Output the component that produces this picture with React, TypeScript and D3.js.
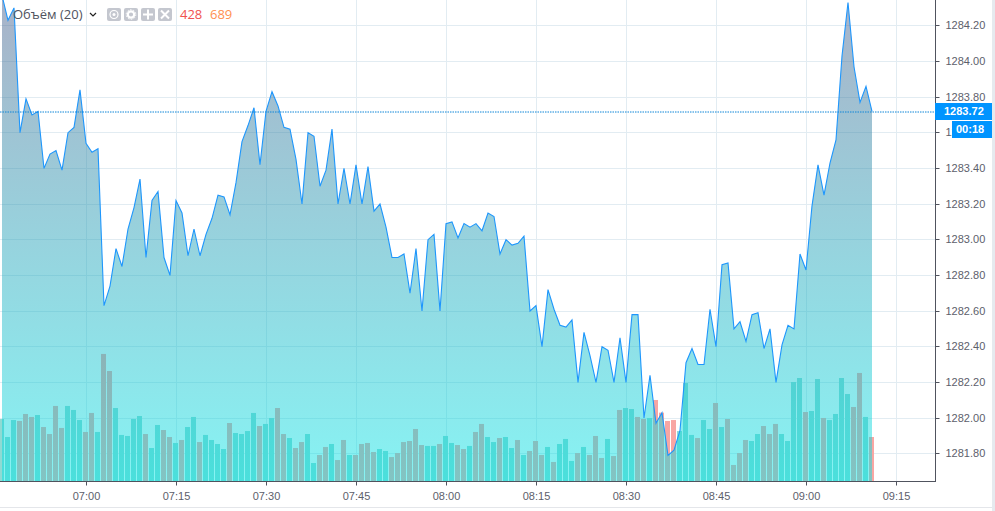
import { useEffect, useRef } from "react";
import * as d3 from "d3";

const WIDTH = 995;
const HEIGHT = 511;

// One point per minute, first one is 06:46
const startTime = Date.UTC(2018, 0, 1, 6, 46);

const prices = [
  1284.37, 1284.23, 1284.3, 1283.6, 1283.79, 1283.7, 1283.72, 1283.4, 1283.48, 1283.5, 1283.39, 1283.6, 1283.63, 1283.84,
  1283.54, 1283.49, 1283.51, 1282.63, 1282.74, 1282.95, 1282.85, 1283.06, 1283.18, 1283.34, 1282.9, 1283.22, 1283.27, 1282.9,
  1282.8, 1283.22, 1283.15, 1282.91, 1283.06, 1282.91, 1283.03, 1283.12, 1283.25, 1283.24, 1283.14, 1283.32, 1283.55, 1283.64,
  1283.74, 1283.42, 1283.72, 1283.83, 1283.75, 1283.63, 1283.62, 1283.45, 1283.2, 1283.6, 1283.58, 1283.3, 1283.39, 1283.62,
  1283.2, 1283.4, 1283.2, 1283.42, 1283.2, 1283.41, 1283.16, 1283.2, 1283.07, 1282.9, 1282.9, 1282.92, 1282.7, 1282.95,
  1282.6, 1283.0, 1283.03, 1282.6, 1283.09, 1283.1, 1283.01, 1283.09, 1283.07, 1283.09, 1283.05, 1283.15, 1283.13, 1282.92,
  1283.0, 1282.97, 1282.98, 1283.02, 1282.6, 1282.63, 1282.4, 1282.72, 1282.61, 1282.52, 1282.51, 1282.55, 1282.2, 1282.48,
  1282.35, 1282.2, 1282.4, 1282.38, 1282.2, 1282.45, 1282.2, 1282.58, 1282.58, 1282.0, 1282.24, 1281.97, 1282.03, 1281.79,
  1281.82, 1281.93, 1282.31, 1282.39, 1282.3, 1282.3, 1282.61, 1282.4, 1282.86, 1282.87, 1282.5, 1282.54, 1282.43, 1282.58,
  1282.59, 1282.39, 1282.5, 1282.2, 1282.41, 1282.52, 1282.5, 1282.92, 1282.83, 1283.19, 1283.42, 1283.25, 1283.43, 1283.56,
  1284.03, 1284.33, 1283.97, 1283.77, 1283.86, 1283.72,
];

const volumes = [
  603, 428, 593, 584, 652, 623, 642, 525, 457, 730, 516, 730, 691, 593, 477, 662, 477, 1236, 1070, 710, 448, 438, 603, 632,
  457, 321, 545, 496, 428, 370, 399, 525, 623, 379, 448, 399, 360, 311, 564, 467, 457, 486, 662, 535, 555, 613, 710, 457,
  418, 321, 379, 457, 175, 253, 331, 360, 204, 399, 253, 253, 360, 370, 282, 311, 292, 233, 272, 379, 389, 506, 350, 341,
  341, 360, 438, 370, 350, 311, 341, 477, 555, 428, 379, 418, 428, 321, 399, 253, 292, 389, 253, 331, 185, 360, 409, 195,
  272, 331, 253, 438, 224, 409, 243, 691, 710, 700, 623, 603, 613, 788, 665, 584, 593, 486, 953, 448, 418, 593, 506, 759,
  525, 603, 156, 272, 399, 389, 457, 535, 457, 555, 457, 389, 963, 1002, 671, 681, 992, 613, 593, 652, 1002, 846, 720, 1051,
  623, 428,
];

// 1 = falling bar (red), 0 = rising bar (green)
const volumeDown = [
  0, 0, 0, 1, 1, 1, 0, 1, 1, 1, 1, 0, 0, 0, 1, 1, 0, 1, 1, 0, 0, 0, 0, 0, 1, 0, 0, 1, 1, 0, 1, 0, 0, 1, 0, 0, 0, 0, 1, 0, 0, 0,
  0, 1, 0, 0, 1, 1, 0, 1, 1, 0, 0, 1, 1, 0, 1, 1, 0, 1, 1, 1, 1, 0, 0, 1, 1, 1, 1, 1, 1, 0, 0, 1, 0, 0, 1, 1, 0, 1, 1, 0, 0, 1,
  0, 0, 1, 0, 1, 1, 1, 0, 1, 0, 0, 0, 1, 0, 1, 1, 1, 0, 1, 1, 0, 0, 1, 1, 0, 1, 1, 1, 1, 0, 0, 0, 1, 0, 0, 1, 0, 1, 1, 1, 1, 0,
  0, 1, 1, 1, 0, 0, 0, 0, 1, 0, 0, 1, 0, 0, 0, 0, 1, 1, 0, 1,
];

const priceTicks = [
  1284.2, 1284.0, 1283.8, 1283.6, 1283.4, 1283.2, 1283.0, 1282.8, 1282.6, 1282.4, 1282.2, 1282.0, 1281.8,
];
const timeTicks = ["07:00", "07:15", "07:30", "07:45", "08:00", "08:15", "08:30", "08:45", "09:00", "09:15"];

const lastPrice = "1283.72";
const countdown = "00:18";
const legendName = "Объём (20)";
const legendVolume = "428";
const legendAverage = "689";

const AXIS_FONT = "'Liberation Sans', Arial, sans-serif";
const LEGEND_FONT = "'Open Sans', sans-serif";

function timeOf(label: string): Date {
  const [h, m] = label.split(":").map(Number);
  return new Date(Date.UTC(2018, 0, 1, h, m));
}

export default function App(): JSX.Element {
  const svgRef = useRef<SVGSVGElement>(null);

  useEffect(() => {
    const svg = d3.select(svgRef.current);
    svg.selectAll("*").remove();

    const plotRight = 935;
    const plotBottom = 481;

    const dates = prices.map((_, i) => new Date(startTime + i * 60000));
    const x = d3
      .scaleUtc()
      .domain([dates[0], dates[dates.length - 1]])
      .range([2, 872]);
    const y = d3.scaleLinear().domain([1281.8, 1284.2]).range([453.7, 25.7]);
    // 428 volume is 44px high in the picture
    const v = d3.scaleLinear().domain([0, 428]).range([plotBottom, plotBottom - 44]);
    const crisp = (p: number) => Math.floor(y(p)) + 0.5;

    svg.append("rect").attr("width", WIDTH).attr("height", HEIGHT).attr("fill", "#ffffff");

    const defs = svg.append("defs");
    defs
      .append("clipPath")
      .attr("id", "plot-clip")
      .append("rect")
      .attr("width", plotRight)
      .attr("height", plotBottom);
    const gradient = defs
      .append("linearGradient")
      .attr("id", "area-fill")
      .attr("gradientUnits", "userSpaceOnUse")
      .attr("x1", 0)
      .attr("x2", 0)
      .attr("y1", 0)
      .attr("y2", plotBottom);
    gradient.append("stop").attr("offset", 0).attr("stop-color", "rgb(72,93,139)").attr("stop-opacity", 0.475);
    gradient.append("stop").attr("offset", 1).attr("stop-color", "rgb(0,230,230)").attr("stop-opacity", 0.475);

    // Grid
    const grid = svg.append("g").attr("stroke", "#e2ecf2").attr("stroke-width", 1);
    grid
      .selectAll("line.h")
      .data(priceTicks)
      .enter()
      .append("line")
      .attr("x1", 0)
      .attr("x2", plotRight)
      .attr("y1", (d) => crisp(d))
      .attr("y2", (d) => crisp(d));
    grid
      .selectAll("line.v")
      .data(timeTicks)
      .enter()
      .append("line")
      .attr("x1", (d) => x(timeOf(d)) + 0.5)
      .attr("x2", (d) => x(timeOf(d)) + 0.5)
      .attr("y1", 0)
      .attr("y2", plotBottom);

    const plot = svg.append("g").attr("clip-path", "url(#plot-clip)");

    // Volume bars go under the area
    plot
      .selectAll("rect.bar")
      .data(volumes)
      .enter()
      .append("rect")
      .attr("x", (_, i) => x(dates[i]) - 3)
      .attr("width", 5)
      .attr("y", (d) => v(d))
      .attr("height", (d) => plotBottom - v(d))
      .attr("fill", (_, i) => (volumeDown[i] ? "#f8a6a3" : "#8fdad3"));

    const area = d3
      .area<number>()
      .x((_, i) => x(dates[i]))
      .y0(plotBottom)
      .y1((d) => y(d));
    plot.append("path").attr("d", area(prices)).attr("fill", "url(#area-fill)");

    const line = d3
      .line<number>()
      .x((_, i) => x(dates[i]))
      .y((d) => y(d));
    plot
      .append("path")
      .attr("d", line(prices))
      .attr("fill", "none")
      .attr("stroke", "#1e96fc")
      .attr("stroke-width", 1.1);

    // Last price line
    const lastY = crisp(+lastPrice) + 0.5;
    svg
      .append("line")
      .attr("x1", 0)
      .attr("x2", plotRight)
      .attr("y1", lastY)
      .attr("y2", lastY)
      .attr("stroke", "#0e86d8")
      .attr("stroke-dasharray", "1.5,1");

    // Axes
    const xAxis = d3
      .axisBottom(x)
      .tickValues(timeTicks.map(timeOf))
      .tickFormat((d) => d3.utcFormat("%H:%M")(d as Date))
      .tickSize(4)
      .tickSizeOuter(0)
      .tickPadding(7);
    const xG = svg.append("g").attr("transform", `translate(0,${plotBottom + 0.5})`).call(xAxis);
    xG.select(".domain").remove();
    xG.selectAll("line").attr("stroke", "#50535e");
    xG.selectAll("text").attr("fill", "#5d606b").attr("font-size", 11).attr("font-family", AXIS_FONT);

    const yAxis = d3
      .axisRight(y)
      .tickValues(priceTicks)
      .tickFormat((d) => d3.format(".2f")(d as number))
      .tickSize(4)
      .tickSizeOuter(0)
      .tickPadding(6);
    const yG = svg.append("g").attr("transform", `translate(${plotRight + 0.5},0)`).call(yAxis);
    yG.select(".domain").remove();
    yG.selectAll<SVGGElement, number>(".tick").attr("transform", (d) => `translate(0,${crisp(d)})`);
    yG.selectAll("line").attr("stroke", "#50535e");
    yG.selectAll("text").attr("fill", "#5d606b").attr("font-size", 11).attr("font-family", AXIS_FONT);

    svg
      .append("line")
      .attr("x1", 0)
      .attr("x2", plotRight + 1)
      .attr("y1", plotBottom + 0.5)
      .attr("y2", plotBottom + 0.5)
      .attr("stroke", "#50535e");
    svg
      .append("line")
      .attr("x1", plotRight + 0.5)
      .attr("x2", plotRight + 0.5)
      .attr("y1", 0)
      .attr("y2", plotBottom + 1)
      .attr("stroke", "#50535e");

    // Page edges
    svg.append("rect").attr("x", 992).attr("width", 3).attr("height", HEIGHT).attr("fill", "#e6eaef");
    svg.append("rect").attr("y", 507).attr("width", 992).attr("height", 1).attr("fill", "#e4e6ea");

    // Price and countdown tags
    svg.append("rect").attr("x", plotRight).attr("y", 103).attr("width", 57).attr("height", 17).attr("fill", "#0094ff");
    svg.append("rect").attr("x", 952).attr("y", 121).attr("width", 40).attr("height", 17).attr("fill", "#0094ff");
    const tags = svg
      .append("g")
      .attr("fill", "#ffffff")
      .attr("font-size", 11)
      .attr("font-weight", "bold")
      .attr("font-family", AXIS_FONT);
    tags.append("text").attr("x", 944).attr("y", 115).text(lastPrice);
    tags.append("text").attr("x", 956).attr("y", 133).text(countdown);

    // Legend
    const legend = svg.append("g").attr("font-family", LEGEND_FONT).attr("font-size", 13);
    legend.append("text").attr("x", 13).attr("y", 19).attr("fill", "#50535e").text(legendName);
    legend.append("text").attr("x", 180).attr("y", 19).attr("fill", "#f05350").text(legendVolume);
    legend.append("text").attr("x", 210).attr("y", 19).attr("fill", "#ff9050").text(legendAverage);
    legend
      .append("path")
      .attr("d", "M90 13 L93 16 L96 13")
      .attr("fill", "none")
      .attr("stroke", "#222")
      .attr("stroke-width", 1.2);

    const buttons = [107, 124, 141, 158];
    const btn = svg.append("g");
    btn
      .selectAll("rect")
      .data(buttons)
      .enter()
      .append("rect")
      .attr("x", (d) => d)
      .attr("y", 8)
      .attr("width", 14)
      .attr("height", 13)
      .attr("rx", 2)
      .attr("fill", "#c4c7cf");
    // eye
    btn.append("circle").attr("cx", 114).attr("cy", 14.5).attr("r", 4).attr("fill", "none").attr("stroke", "#fff").attr("stroke-width", 1.2);
    btn.append("circle").attr("cx", 114).attr("cy", 14.5).attr("r", 1.5).attr("fill", "#fff");
    // gear
    btn.append("circle").attr("cx", 131).attr("cy", 14.5).attr("r", 3.2).attr("fill", "none").attr("stroke", "#fff").attr("stroke-width", 2.2);
    btn.append("circle").attr("cx", 131).attr("cy", 14.5).attr("r", 4.8).attr("fill", "none").attr("stroke", "#fff").attr("stroke-width", 1).attr("stroke-dasharray", "1.6,1.4");
    // plus
    btn.append("path").attr("d", "M148 9.5 V19.5 M143 14.5 H153").attr("stroke", "#fff").attr("stroke-width", 2);
    // cross
    btn.append("path").attr("d", "M161 10.5 L169 18.5 M169 10.5 L161 18.5").attr("stroke", "#fff").attr("stroke-width", 2);
  }, []);

  return (
    <div>
      <style>{"html,body{margin:0;padding:0;background:#fff}"}</style>
      <svg ref={svgRef} width={WIDTH} height={HEIGHT} style={{ display: "block" }} />
    </div>
  );
}
